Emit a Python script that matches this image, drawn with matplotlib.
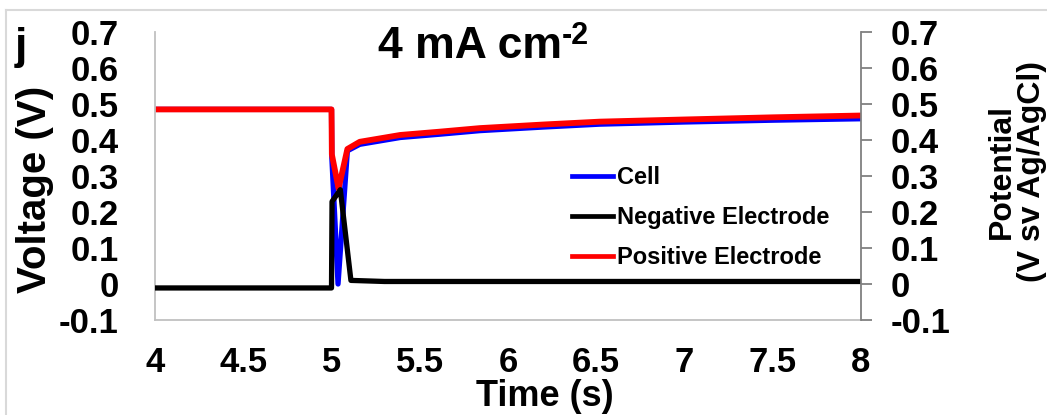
import matplotlib
matplotlib.use("Agg")
import matplotlib.pyplot as plt
from matplotlib.lines import Line2D

plt.rcParams['font.family'] = ['Liberation Sans', 'DejaVu Sans']
plt.rcParams['font.weight'] = 'bold'

# Data
t_cell = [4.0, 5.0, 5.002, 5.037, 5.09, 5.16, 5.39, 5.61, 5.84, 6.2, 6.52, 7.0, 7.5, 8.0]
v_cell = [0.485, 0.485, 0.35, 0.0, 0.37, 0.388, 0.407, 0.416, 0.426, 0.436, 0.444, 0.450, 0.455, 0.459]

t_neg = [4.0, 5.0, 5.003, 5.05, 5.11, 5.3, 6.0, 7.0, 8.0]
v_neg = [-0.011, -0.011, 0.229, 0.262, 0.010, 0.007, 0.007, 0.007, 0.007]

t_pos = [4.0, 5.0, 5.002, 5.04, 5.09, 5.16, 5.39, 5.61, 5.84, 6.2, 6.52, 7.0, 7.5, 8.0]
v_pos = [0.485, 0.485, 0.36, 0.265, 0.375, 0.395, 0.414, 0.423, 0.433, 0.443, 0.451, 0.457, 0.463, 0.468]

series_labels = ['Cell', 'Negative Electrode', 'Positive Electrode']
x_ticks = [4, 4.5, 5, 5.5, 6, 6.5, 7, 7.5, 8]
x_ticklabels = ['4', '4.5', '5', '5.5', '6', '6.5', '7', '7.5', '8']
y_ticks = [-0.1, 0, 0.1, 0.2, 0.3, 0.4, 0.5, 0.6, 0.7]
y_ticklabels = ['-0.1', '0', '0.1', '0.2', '0.3', '0.4', '0.5', '0.6', '0.7']

W, H = 1047, 415
fig = plt.figure(figsize=(W / 100, H / 100), dpi=100)
ax = fig.add_axes([155 / W, 1 - 320 / H, (861 - 155) / W, (320 - 32) / H])

ax.plot(t_cell, v_cell, color='#0000FF', lw=3.8, label=series_labels[0], zorder=2)
ax.plot(t_neg, v_neg, color='#000000', lw=3.8, label=series_labels[1], zorder=3)
ax.plot(t_pos, v_pos, color='#FF0000', lw=4.2, label=series_labels[2], zorder=2.5)

TICK_FS = 25
ax.set_xlim(4, 8)
ax.set_ylim(-0.1, 0.7)
ax.set_xticks(x_ticks)
ax.set_xticklabels(x_ticklabels, fontsize=TICK_FS, fontweight='bold')
ax.set_yticks(y_ticks)
ax.set_yticklabels(y_ticklabels, fontsize=TICK_FS, fontweight='bold')
ax.tick_params(axis='x', length=0, pad=19)
ax.tick_params(axis='y', length=0, pad=26)

for s in ['top', 'right']:
    ax.spines[s].set_visible(False)
ax.spines['left'].set_color('#c0c0c0')
ax.spines['bottom'].set_color('#c0c0c0')
ax.spines['left'].set_linewidth(1.3)
ax.spines['bottom'].set_linewidth(1.3)

ax2 = ax.twinx()
ax2.set_ylim(-0.1, 0.7)
ax2.set_yticks(y_ticks)
ax2.set_yticklabels(y_ticklabels, fontsize=TICK_FS, fontweight='bold')
ax2.tick_params(axis='y', length=8, width=1.3, color='#808080', pad=13, direction='out')
for s in ['top', 'left', 'bottom']:
    ax2.spines[s].set_visible(False)
ax2.spines['right'].set_color('#808080')
ax2.spines['right'].set_linewidth(1.3)

leg = ax.legend(loc='upper left', bbox_to_anchor=((572 - 155) / (861 - 155), 1 - (166 - 32) / (320 - 32)),
                frameon=False, fontsize=17, handlelength=1.75, handletextpad=0.15,
                labelspacing=0.72, borderaxespad=0, borderpad=0)
for line in leg.get_lines():
    line.set_linewidth(3.4)
for txt in leg.get_texts():
    txt.set_fontweight('bold')

fig.text(470 / W, 1 - 47 / H, '4 mA cm', fontsize=32, fontweight='bold',
         ha='center', va='center')
fig.text(562 / W, 1 - 36 / H, '-2', fontsize=22, fontweight='bold', ha='left', va='center')
fig.text(21 / W, 1 - 47 / H, 'j', fontsize=32, fontweight='bold', ha='center', va='center')
fig.text(35 / W, 1 - 189 / H, 'Voltage (V)', fontsize=29, fontweight='bold',
         rotation=90, ha='center', va='center')
fig.text(545 / W, 1 - 396 / H, 'Time (s)', fontsize=26, fontweight='bold',
         ha='center', va='center')
fig.text(1002 / W, 1 - 171 / H, 'Potential', fontsize=23, fontweight='bold',
         rotation=90, ha='center', va='center')
fig.text(1032 / W, 1 - 171 / H, '(V sv Ag/AgCl)', fontsize=23, fontweight='bold',
         rotation=90, ha='center', va='center')

# light figure border (left and top)
fig.add_artist(Line2D([6 / W, 6 / W], [0, 1 - 10 / H], transform=fig.transFigure,
                      color='#d9d9d9', lw=1.5))
fig.add_artist(Line2D([6 / W, 1], [1 - 10 / H, 1 - 10 / H], transform=fig.transFigure,
                      color='#d9d9d9', lw=1.5))

fig.savefig('out.png', dpi=100, facecolor='white')
